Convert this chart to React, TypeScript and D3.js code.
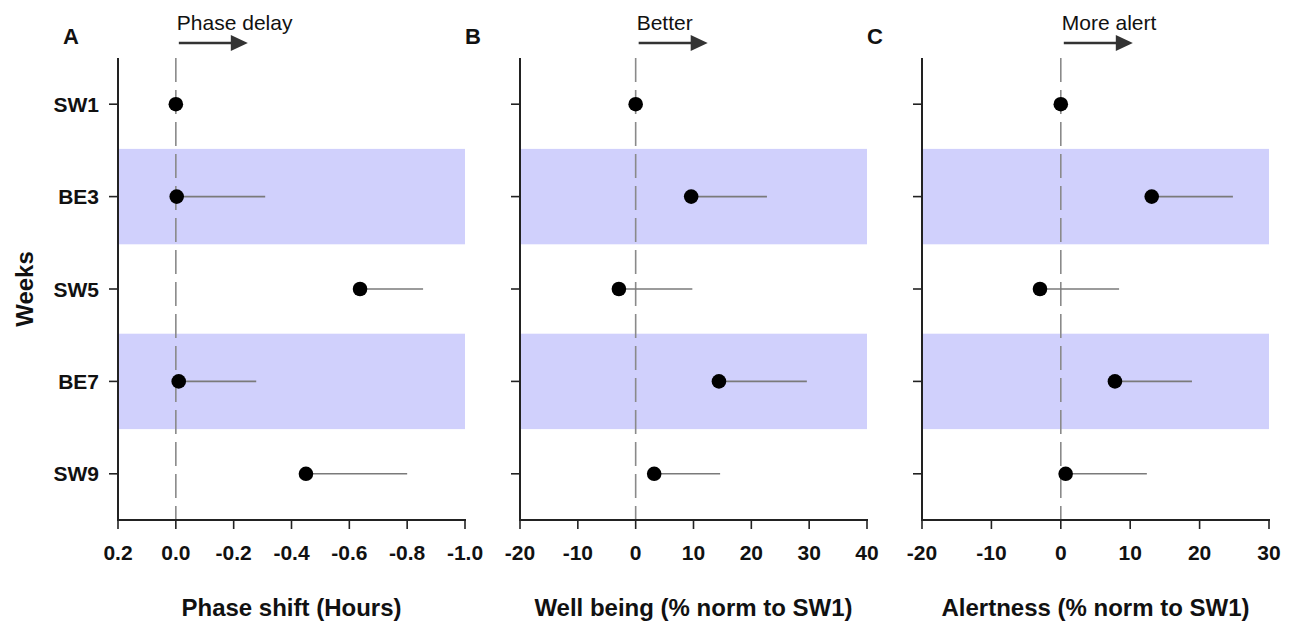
import * as d3 from "d3";

const weeks = ["SW1", "BE3", "SW5", "BE7", "SW9"];
const lightWeeks = ["BE3", "BE7"];

// phase shift in hours, negative = delay
const phaseShift = [0, -0.003, -0.637, -0.01, -0.45];
const phaseShiftSem = [0, 0.306, 0.218, 0.268, 0.35];

// % normalised to SW1
const wellBeing = [0, 9.6, -2.9, 14.4, 3.2];
const wellBeingSem = [0, 13.1, 12.7, 15.2, 11.4];

const alertness = [0, 13.1, -3.0, 7.8, 0.7];
const alertnessSem = [0, 11.7, 11.4, 11.1, 11.7];

const phaseTicks = [0.2, 0.0, -0.2, -0.4, -0.6, -0.8, -1.0];
const wellTicks = [-20, -10, 0, 10, 20, 30, 40];
const alertTicks = [-20, -10, 0, 10, 20, 30];

// hyphen instead of d3's unicode minus, as in the original figure
const hyphen = (f) => (d) => f(d).replace("\u2212", "-");

const panels = [
  { letter: "A", left: 118, domain: [0.2, -1.0], ticks: phaseTicks, fmt: hyphen(d3.format(".1f")), values: phaseShift, sem: phaseShiftSem, dir: -1, arrowText: "Phase delay", title: "Phase shift (Hours)" },
  { letter: "B", left: 520, domain: [-20, 40], ticks: wellTicks, fmt: hyphen(d3.format("d")), values: wellBeing, sem: wellBeingSem, dir: 1, arrowText: "Better", title: "Well being (% norm to SW1)" },
  { letter: "C", left: 922, domain: [-20, 30], ticks: alertTicks, fmt: hyphen(d3.format("d")), values: alertness, sem: alertnessSem, dir: 1, arrowText: "More alert", title: "Alertness (% norm to SW1)" },
];

const width = 1289;
const height = 622;
const panelWidth = 347;
const top = 58;
const bottom = 520;
const font = "'Liberation Sans', Arial, Helvetica, sans-serif";

function Panel({ p }) {
  const x = d3.scaleLinear().domain(p.domain).range([p.left, p.left + panelWidth]);
  const y = d3.scaleBand().domain(weeks).range([top, bottom]);
  const bw = y.bandwidth();
  const x0 = x(0);
  const mid = p.left + panelWidth / 2;

  return (
    <g>
      {/* shaded bright-light weeks */}
      {lightWeeks.map(w => (
        <rect key={w} x={p.left} y={y(w) - 1.5} width={panelWidth} height={bw + 3} fill="#d0d0fc" />
      ))}

      {/* zero reference */}
      <line x1={x0} x2={x0} y1={top} y2={bottom} stroke="#8a8a8a" strokeWidth={1.6} strokeDasharray="24,8" />

      {/* error bars */}
      {weeks.map((w, i) => p.sem[i] > 0 && (
        <line key={w} x1={x(p.values[i])} x2={x(p.values[i] + p.dir * p.sem[i])}
          y1={y(w) + bw / 2} y2={y(w) + bw / 2} stroke="#7a7a7a" strokeWidth={1.6} />
      ))}

      {/* means */}
      {weeks.map((w, i) => (
        <circle key={w} cx={x(p.values[i])} cy={y(w) + bw / 2} r={7.3} fill="#000" />
      ))}

      {/* y axis */}
      <line x1={p.left} x2={p.left} y1={top} y2={bottom + 1} stroke="#222" strokeWidth={2} />
      {weeks.map(w => (
        <line key={w} x1={p.left - 9} x2={p.left} y1={y(w) + bw / 2} y2={y(w) + bw / 2} stroke="#222" strokeWidth={1.6} />
      ))}
      {p.letter === "A" && weeks.map(w => (
        <text key={w} x={p.left - 19} y={y(w) + bw / 2} dy="0.36em" textAnchor="end"
          fontFamily={font} fontWeight="bold" fontSize={21} fill="#111">{w}</text>
      ))}

      {/* x axis */}
      <line x1={p.left - 1} x2={p.left + panelWidth + 1} y1={bottom} y2={bottom} stroke="#222" strokeWidth={2} />
      {p.ticks.map(t => (
        <g key={t}>
          <line x1={x(t)} x2={x(t)} y1={bottom} y2={bottom + 9} stroke="#222" strokeWidth={1.6} />
          <text x={x(t)} y={560} textAnchor="middle" fontFamily={font} fontWeight="bold" fontSize={21} fill="#111">
            {p.fmt(t)}
          </text>
        </g>
      ))}
      <text x={mid} y={616} textAnchor="middle" fontFamily={font} fontWeight="bold" fontSize={24} fill="#111">{p.title}</text>

      {/* panel letter */}
      <text x={p.left - 55} y={44} fontFamily={font} fontWeight="bold" fontSize={22} fill="#111">{p.letter}</text>

      {/* direction arrow */}
      <text x={x0 + 1} y={30} fontFamily={font} fontSize={21} fill="#111">{p.arrowText}</text>
      <line x1={x0 + 3} x2={x0 + 56} y1={43} y2={43} stroke="#333" strokeWidth={2.4} />
      <path d={`M${x0 + 55},35 L${x0 + 72},43 L${x0 + 55},51 Z`} fill="#333" />
    </g>
  );
}

export default function App() {
  return (
    <div style={{ position: "absolute", left: 0, top: 0 }}>
      <svg width={width} height={height} viewBox={`0 0 ${width} ${height}`} style={{ display: "block", background: "#fff" }}>
        {panels.map(p => <Panel key={p.letter} p={p} />)}
        <text transform={`translate(33,${(top + bottom) / 2}) rotate(-90)`} textAnchor="middle"
          fontFamily={font} fontWeight="bold" fontSize={24} fill="#111">Weeks</text>
      </svg>
    </div>
  );
}
